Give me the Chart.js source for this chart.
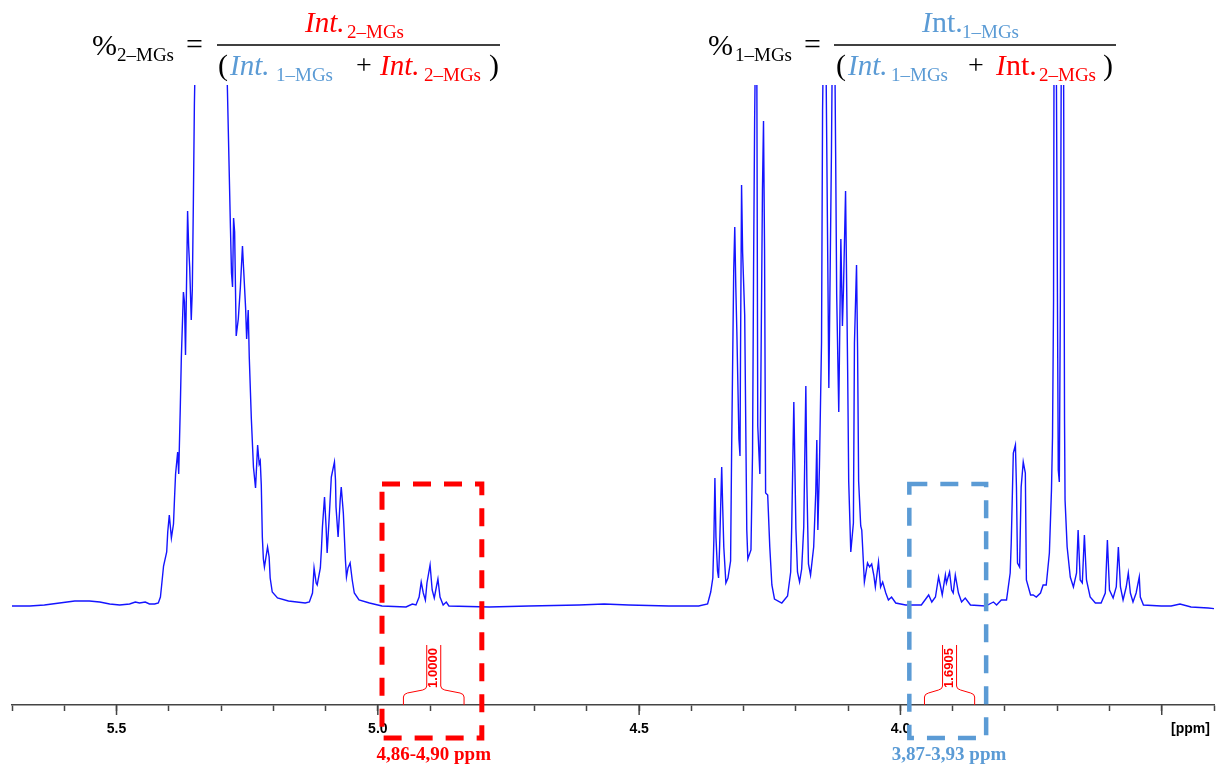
<!DOCTYPE html>
<html>
<head>
<meta charset="utf-8">
<script src="https://cdn.jsdelivr.net/npm/chart.js@4.4.1/dist/chart.umd.min.js"></script>
<style>
    body { margin: 0; background: #fff; }
    #wrap { position: relative; width: 1224px; height: 769px; }
</style>
</head>
<body>
<div id="wrap"><canvas id="graf"></canvas></div>
<script>
let ppm = [
    5.700, 5.666, 5.638, 5.609, 5.580, 5.552, 5.532, 5.513, 5.494, 5.475, 5.464, 5.456, 5.445, 5.437, 5.427, 5.420,
    5.416, 5.414, 5.410, 5.404, 5.402, 5.399, 5.395, 5.391, 5.389, 5.387, 5.383, 5.381, 5.378, 5.376, 5.372, 5.370,
    5.368, 5.364, 5.362, 5.360, 5.357, 5.355, 5.353, 5.351, 5.349, 5.332, 5.313, 5.290, 5.288, 5.286, 5.282, 5.280,
    5.278, 5.276, 5.274, 5.271, 5.267, 5.263, 5.259, 5.257, 5.253, 5.251, 5.248, 5.246, 5.242, 5.240, 5.238, 5.234,
    5.230, 5.227, 5.225, 5.223, 5.221, 5.219, 5.217, 5.211, 5.208, 5.206, 5.202, 5.192, 5.171, 5.139,
    5.131, 5.125, 5.122, 5.118, 5.116, 5.110, 5.108, 5.106, 5.102, 5.099, 5.097, 5.093, 5.089, 5.087, 5.083, 5.081,
    5.080, 5.076, 5.072, 5.070, 5.066, 5.062, 5.060, 5.057, 5.053, 5.049, 5.045, 5.036, 5.016, 4.992, 4.946, 4.934,
    4.927, 4.921, 4.917, 4.913, 4.909, 4.906, 4.900, 4.896, 4.892, 4.888, 4.885, 4.881, 4.875, 4.869, 4.864, 4.787,
    4.711, 4.615, 4.567, 4.520, 4.443, 4.386,
    4.369, 4.363, 4.359, 4.357, 4.355, 4.353, 4.350, 4.348, 4.346, 4.342, 4.340, 4.338, 4.334, 4.330, 4.325, 4.323,
    4.319, 4.317, 4.315, 4.313, 4.309, 4.307, 4.306, 4.304, 4.302, 4.298, 4.294, 4.292, 4.286, 4.283, 4.281, 4.279,
    4.277, 4.275, 4.273, 4.269, 4.267, 4.264, 4.262, 4.260, 4.258, 4.254, 4.250, 4.246, 4.241, 4.227, 4.216, 4.210,
    4.208, 4.204, 4.200, 4.197, 4.193, 4.189, 4.185, 4.181, 4.179, 4.176, 4.172, 4.166, 4.162, 4.160, 4.158, 4.155,
    4.151, 4.149, 4.147, 4.143, 4.139, 4.137, 4.136, 4.132, 4.130, 4.126, 4.124, 4.122, 4.118, 4.114, 4.111, 4.109,
    4.105, 4.101, 4.099, 4.095, 4.090, 4.088, 4.084, 4.082, 4.080, 4.076, 4.074, 4.069, 4.063, 4.059, 4.055, 4.051,
    4.048, 4.042, 4.038, 4.034, 4.028, 4.023, 4.017, 4.009, 3.990, 3.960, 3.946, 3.940, 3.933, 3.927, 3.923, 3.920,
    3.914, 3.912, 3.906, 3.902, 3.899, 3.895, 3.889, 3.883, 3.876, 3.866, 3.837, 3.822, 3.816, 3.807, 3.797, 3.790,
    3.788, 3.784, 3.780, 3.778, 3.776, 3.772, 3.769, 3.765, 3.761, 3.759, 3.751, 3.746, 3.740, 3.732, 3.727, 3.721,
    3.715, 3.711, 3.709, 3.707, 3.706, 3.702, 3.698, 3.696, 3.694, 3.692, 3.688, 3.686, 3.685, 3.681, 3.675, 3.669,
    3.663, 3.660, 3.656, 3.652, 3.648, 3.644, 3.637, 3.627, 3.616, 3.608, 3.604, 3.600, 3.593, 3.587, 3.583, 3.579,
    3.574, 3.568, 3.564, 3.560, 3.555, 3.549, 3.543, 3.541, 3.535, 3.501, 3.482, 3.465, 3.444, 3.411, 3.392
]
let intensidade = [
    0, 0, 1, 3, 5, 5, 4, 2, 1, 2, 4, 3, 4, 2, 2, 3,
    9, 19, 40, 54, 74, 91, 68, 82, 108, 132, 154, 132, 198, 248, 314, 304,
    251, 395, 360, 339, 286, 316, 402, 502, 560, 580, 580, 560, 521, 473, 378, 333,
    319, 388, 374, 270, 287, 319, 360, 339, 298, 267, 296, 249, 187, 163, 139, 118,
    161, 142, 145, 121, 69, 47, 39, 59, 49, 28, 14, 8, 5, 3,
    4, 13, 38, 23, 21, 38, 56, 79, 109, 79, 53, 89, 129, 134, 144, 126,
    99, 69, 106, 119, 93, 46, 29, 38, 43, 26, 13, 6, 3, 0, -1, 2,
    1, 9, 24, 13, 6, 23, 41, 16, 8, 19, 27, 9, 1, 4, 0, -1,
    0, 1, 2, 1, 0, 0,
    2, 14, 28, 66, 128, 69, 35, 28, 59, 139, 97, 59, 23, 28, 45, 156,
    336, 379, 319, 274, 167, 150, 253, 421, 354, 291, 76, 47, 56, 153, 339, 486,
    580, 580, 180, 132, 229, 417, 485, 356, 113, 111, 59, 21, 7, 3, 10, 34,
    80, 204, 77, 34, 24, 37, 79, 220, 121, 42, 31, 59, 114, 166, 76, 139,
    263, 495, 580, 580, 343, 218, 263, 454, 580, 580, 454, 312, 194, 367, 280, 317,
    415, 236, 125, 54, 83, 263, 341, 256, 125, 80, 76, 24, 43, 39, 42, 31,
    19, 44, 19, 24, 13, 6, 9, 3, 1, 1, 11, 4, 9, 29, 19, 11,
    31, 23, 34, 16, 13, 31, 13, 4, 8, 1, 0, 4, 1, 6, 6, 33,
    63, 153, 161, 119, 43, 39, 119, 144, 133, 26, 11, 11, 9, 13, 21, 21,
    53, 116, 169, 306, 580, 580, 136, 124, 306, 580, 580, 186, 106, 59, 29, 19,
    33, 76, 26, 23, 71, 26, 9, 3, 3, 13, 66, 16, 8, 19, 59, 19,
    6, 19, 33, 13, 4, 13, 29, 9, 1, 0, 0, 2, -1, -2, -3
]

// rótulos do eixo (ppm)
let rotulosEixo = [5.5, 5.0, 4.5, 4.0]
let marcasMaiores = [5.5, 5.0, 4.5, 4.0, 3.5]

// integrais e faixas destacadas
let integralValor = ['1.0000', '1.6905']
let faixaTexto = ['4,86-4,90 ppm', '3,87-3,93 ppm']

const VERMELHO = '#ff0000'
const AZUL = '#5b9bd5'
const SERIF = '"Liberation Serif", "Times New Roman", serif'

function linha(ctx, x1, y1, x2, y2) {
    ctx.beginPath()
    ctx.moveTo(x1, y1)
    ctx.lineTo(x2, y2)
    ctx.stroke()
}

function desenhaIntegral(ctx, xa, xb, eixo, texto) {
    let cx = (xa + xb) / 2
    let yh = eixo - 11
    ctx.strokeStyle = VERMELHO
    ctx.lineWidth = 1
    ctx.beginPath()
    ctx.moveTo(xa, eixo)
    ctx.lineTo(xa, yh + 3)
    ctx.quadraticCurveTo(xa, yh, xa + 4, yh - 1)
    ctx.lineTo(cx - 11, yh - 4)
    ctx.quadraticCurveTo(cx - 7, yh - 5, cx - 7, yh - 8)
    ctx.lineTo(cx - 7, eixo - 60)
    ctx.moveTo(cx + 7, eixo - 60)
    ctx.lineTo(cx + 7, yh - 8)
    ctx.quadraticCurveTo(cx + 7, yh - 5, cx + 11, yh - 4)
    ctx.lineTo(xb - 4, yh - 1)
    ctx.quadraticCurveTo(xb, yh, xb, yh + 3)
    ctx.lineTo(xb, eixo)
    ctx.stroke()

    ctx.save()
    ctx.translate(cx, eixo - 37)
    ctx.rotate(-Math.PI / 2)
    ctx.fillStyle = VERMELHO
    ctx.font = 'bold 13px Arial'
    ctx.textAlign = 'center'
    ctx.textBaseline = 'middle'
    ctx.fillText(texto, 0, 0)
    ctx.restore()
}

function desenhaCaixa(ctx, x1, x2, y1, y2, cor, espessura) {
    ctx.strokeStyle = cor
    ctx.lineWidth = espessura
    ctx.setLineDash([18, 13])
    ctx.beginPath()
    ctx.moveTo(x1, y1)
    ctx.lineTo(x2, y1)
    ctx.lineTo(x2, y2)
    ctx.lineTo(x1, y2)
    ctx.closePath()
    ctx.stroke()
    ctx.setLineDash([])
}

// cada parte: [texto, fonte, cor, x, linha de base]
function escreve(ctx, partes) {
    ctx.textAlign = 'left'
    ctx.textBaseline = 'alphabetic'
    for (let p of partes) {
        ctx.font = p[1]
        ctx.fillStyle = p[2]
        ctx.fillText(p[0], p[3], p[4])
    }
}

const anotacoes = {
    id: 'anotacoes',
    afterDraw(chart) {
        let ctx = chart.ctx
        let sx = chart.scales.x
        let sy = chart.scales.y
        let eixo = chart.chartArea.bottom
        ctx.save()

        // marcas maiores mais longas
        ctx.strokeStyle = '#444'
        ctx.lineWidth = 1.5
        marcasMaiores.forEach(v => {
            let px = sx.getPixelForValue(v)
            linha(ctx, px, eixo, px, eixo + 10)
        })

        ctx.fillStyle = '#000'
        ctx.font = 'bold 14px Arial'
        ctx.textAlign = 'center'
        ctx.textBaseline = 'top'
        ctx.fillText('[ppm]', sx.getPixelForValue(3.445), eixo + 17)

        // integrais
        desenhaIntegral(ctx, sx.getPixelForValue(4.951), sx.getPixelForValue(4.835), eixo, integralValor[0])
        desenhaIntegral(ctx, sx.getPixelForValue(3.954), sx.getPixelForValue(3.858), eixo, integralValor[1])

        // caixas tracejadas
        let topo = sy.getPixelForValue(122)
        let base = sy.getPixelForValue(-132)
        desenhaCaixa(ctx, sx.getPixelForValue(4.992), sx.getPixelForValue(4.801), topo, base, VERMELHO, 5)
        desenhaCaixa(ctx, sx.getPixelForValue(3.983), sx.getPixelForValue(3.836), topo, base, AZUL, 4.5)

        ctx.font = 'bold 19px ' + SERIF
        ctx.textAlign = 'center'
        ctx.textBaseline = 'middle'
        ctx.fillStyle = VERMELHO
        ctx.fillText(faixaTexto[0], sx.getPixelForValue(4.893), sy.getPixelForValue(-149))
        ctx.fillStyle = AZUL
        ctx.fillText(faixaTexto[1], sx.getPixelForValue(3.907), sy.getPixelForValue(-149))

        // fórmulas
        let grande = '30px ' + SERIF
        let ital = 'italic 29px ' + SERIF
        let sub = '19px ' + SERIF
        let mais = '28px ' + SERIF
        ctx.strokeStyle = '#000'
        ctx.lineWidth = 1.5
        linha(ctx, 217, 45, 500, 45)
        linha(ctx, 834, 45, 1116, 45)
        escreve(ctx, [
            ['%', grande, '#000', 92, 55],
            ['2–MGs', sub, '#000', 117, 61],
            ['=', grande, '#000', 186, 54],
            ['Int.', ital, VERMELHO, 305, 32],
            ['2–MGs', sub, VERMELHO, 347, 38],
            ['(', grande, '#000', 218, 75],
            ['Int.', ital, AZUL, 230, 75],
            ['1–MGs', sub, AZUL, 276, 81],
            ['+', mais, '#000', 356, 74],
            ['Int.', ital, VERMELHO, 380, 75],
            ['2–MGs', sub, VERMELHO, 424, 81],
            [')', grande, '#000', 489, 75],

            ['%', grande, '#000', 708, 55],
            ['1–MGs', sub, '#000', 735, 61],
            ['=', grande, '#000', 804, 54],
            ['I', ital, AZUL, 922, 32],
            ['nt.', grande, AZUL, 932, 32],
            ['1–MGs', sub, AZUL, 962, 38],
            ['(', grande, '#000', 836, 75],
            ['Int.', ital, AZUL, 848, 75],
            ['1–MGs', sub, AZUL, 891, 81],
            ['+', mais, '#000', 968, 74],
            ['I', ital, VERMELHO, 996, 75],
            ['nt.', grande, VERMELHO, 1006, 75],
            ['2–MGs', sub, VERMELHO, 1039, 81],
            [')', grande, '#000', 1103, 75]
        ])
        ctx.restore()
    }
}

let pontos = ppm.map((p, i) => ({ x: p, y: intensidade[i] }))

let ctx = document.getElementById('graf').getContext('2d')

const config = {
    type: 'line',
    data: {
        datasets: [{
            label: 'RMN 1H',
            data: pontos,
            borderColor: '#1414ff',
            borderWidth: 1.4,
            pointRadius: 0,
            tension: 0,
            fill: false
        }]
    },
    options: {
        responsive: true,
        maintainAspectRatio: false,
        animation: false,
        layout: { padding: { top: 85, left: 12, right: 6, bottom: 0 } },
        plugins: {
            legend: { display: false },
            tooltip: { enabled: false }
        },
        scales: {
            x: {
                type: 'linear',
                reverse: true,
                min: 3.4,
                max: 5.7,
                afterFit: (s) => { s.height = 64 },
                border: { display: true, color: '#444', width: 1.5 },
                grid: { display: true, drawOnChartArea: false, drawTicks: true, tickLength: 6, tickColor: '#444', tickWidth: 1.5 },
                ticks: {
                    stepSize: 0.1,
                    autoSkip: false,
                    maxRotation: 0,
                    padding: 10,
                    color: '#000',
                    font: { family: 'Arial', size: 14, weight: 'bold' },
                    callback: (v) => {
                        let r = Math.round(v * 10) / 10
                        return rotulosEixo.includes(r) ? r.toFixed(1) : ''
                    }
                }
            },
            y: { display: false, min: -99, max: 521 }
        }
    },
    plugins: [anotacoes]
}

let meuGrafico = new Chart(ctx, config)
</script>
</body>
</html>
